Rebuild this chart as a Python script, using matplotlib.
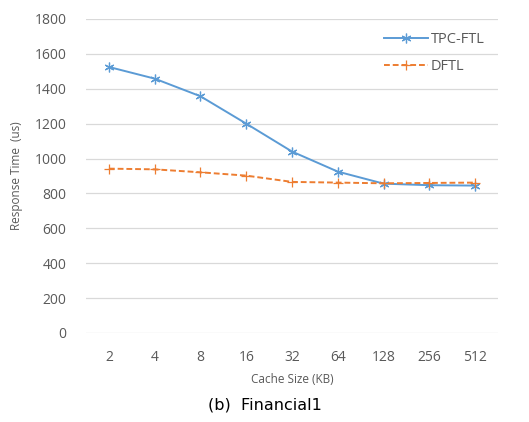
import matplotlib.pyplot as plt
import numpy as np

# data
cache_sizes = ['2', '4', '8', '16', '32', '64', '128', '256', '512']
tpc_ftl = [1525, 1458, 1357, 1200, 1040, 925, 856, 847, 845]
dftl = [942, 938, 921, 902, 866, 862, 858, 860, 862]

BLUE = '#5B9BD5'
ORANGE = '#ED7D31'
TEXT = '#595959'
GRID = '#D9D9D9'

plt.rcParams['font.family'] = ['Open Sans', 'DejaVu Sans']

fig = plt.figure(figsize=(5.29, 4.22), dpi=100)
ax = fig.add_axes([0.1626, 0.211, 0.7788, 0.744])

x = np.arange(len(cache_sizes))
ax.plot(x, tpc_ftl, color=BLUE, linewidth=1.4, marker=(6, 2, 0),
        markersize=7, markeredgewidth=0.9, label='TPC-FTL')
ax.plot(x, dftl, color=ORANGE, linewidth=1.4, linestyle='--', dashes=(3, 1.5),
        marker='+', markersize=7, markeredgewidth=0.9, label='DFTL')

ax.set_xlim(-0.5, len(cache_sizes) - 0.5)
ax.set_ylim(0, 1800)
ax.set_yticks(np.arange(0, 1801, 200))
ax.set_xticks(x)
ax.set_xticklabels(cache_sizes)
ax.tick_params(axis='both', length=0, colors=TEXT, labelsize=10)
ax.tick_params(axis='y', pad=14)
ax.tick_params(axis='x', pad=12)

for s in ax.spines.values():
    s.set_visible(False)
ax.grid(axis='y', color=GRID, linewidth=0.9)
ax.set_axisbelow(True)

ax.set_ylabel('Response Time  (us)', color=TEXT, fontsize=8.5, labelpad=8)
ax.set_xlabel('Cache Size (KB)', color=TEXT, fontsize=8.5, labelpad=6)

ax.legend(loc='upper right', bbox_to_anchor=(1.0, 1.0), frameon=False,
          fontsize=10.5, labelcolor=TEXT, handlelength=3.0, handletextpad=0.2,
          labelspacing=0.8)

fig.text(0.5, 0.04, '(b)  Financial1', ha='center', va='center',
         fontsize=11.5, color='black', family=['DejaVu Sans'])

fig.savefig('out.png', dpi=100)
